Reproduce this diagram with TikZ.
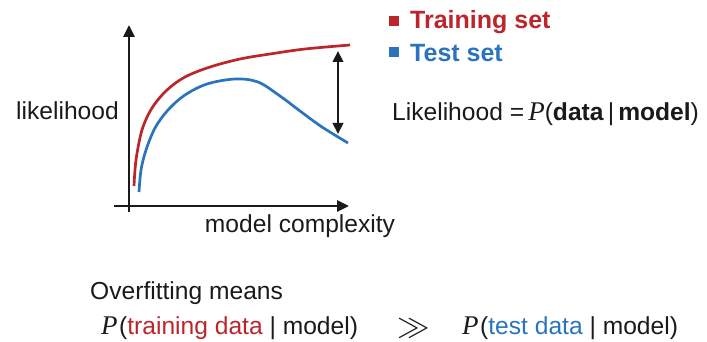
\documentclass[tikz,border=0pt]{standalone}
\usepackage{fontspec}
\setmainfont{Liberation Sans}
\newfontfamily\serifit{Liberation Serif}
\usetikzlibrary{arrows.meta}
\definecolor{trainred}{HTML}{BA262B}
\definecolor{testblue}{HTML}{2A74BE}
\definecolor{ink}{HTML}{1A1A1A}
\newcommand{\probP}{{\serifit\itshape\fontsize{27}{29}\selectfont P}}
\tikzset{
  axis/.style={line width=2.8pt, ink, -{Triangle[length=12pt,width=11pt]}},
  curve/.style={line width=2.7pt, smooth, tension=0.55},
  gap/.style={line width=2.2pt, ink, {Triangle[length=11pt,width=10.5pt]}-{Triangle[length=11pt,width=10.5pt]}},
  txt/.style={font=\fontsize{24.6}{29}\selectfont, text=ink, inner sep=0pt},
  legend/.style={font=\bfseries\fontsize{25}{29}\selectfont, inner sep=0pt, anchor=west},
  swatch/.style={minimum width=10.5pt, minimum height=10.5pt, inner sep=0pt}
}
\begin{document}
\begin{tikzpicture}[x=1pt,y=-1pt]
\useasboundingbox (0,0) rectangle (707,342);

% axes
\coordinate (ytop) at (129,25);
\coordinate (xend) at (349,206);
\draw[axis] (129,212) -- (ytop);
\draw[axis] (114,206) -- (xend);

% likelihood curves
\draw[curve, trainred] plot coordinates {(134,186) (136,160) (142,130) (152,108) (167,90) (185,77) (210,67) (240,59) (270,54) (305,49) (350,45)};
\draw[curve, testblue] plot coordinates {(139,192) (141,170) (146,150) (155,128) (168,110) (185,95) (207,84) (235,79) (258,82) (280,96) (300,111) (322,127) (348,143)};

% gap between training and test likelihood
\coordinate (gtop) at (338,51);
\coordinate (gbot) at (338,134);
\draw[gap] (gtop) -- (gbot);

% axis labels
\node[txt, anchor=east] (ylab) at (119,111) {likelihood};
\node[txt, anchor=center] (xlab) at (300,226) {model complexity};

% legend
\node[swatch, fill=trainred] (sqtrain) at (394,21) {};
\node[legend, text=trainred] (ltrain) at (410,22) {Training set};
\node[swatch, fill=testblue] (sqtest) at (394,52) {};
\node[legend, text=testblue] (ltest) at (410,53) {Test set};

% definition
\node[txt, anchor=west] (defn) at (392,114) {Likelihood =\,\probP(\textbf{data}\,|\,\textbf{model})};

% conclusion
\node[txt, anchor=west] (over) at (90,293) {Overfitting means};
\node[txt, anchor=west] (ptrain) at (101,328) {\probP\kern1.5pt(\textcolor{trainred}{training data} | model)};
\node[txt, anchor=center] (gg) at (414,328) {\scalebox{1.3}{$\gg$}};
\node[txt, anchor=west] (ptest) at (462,328) {\probP\kern1.5pt(\textcolor{testblue}{test data} | model)};
\end{tikzpicture}
\end{document}
